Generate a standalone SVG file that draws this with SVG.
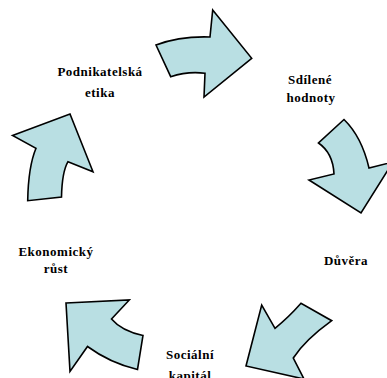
<svg xmlns="http://www.w3.org/2000/svg" width="387" height="378" viewBox="0 0 387 378">
<style>
.arr{fill:#b9dfe3;stroke:#000;stroke-width:1.6;stroke-linejoin:miter}
.lbl{font-family:"Liberation Serif","Times New Roman",serif;font-weight:bold;font-size:13px;letter-spacing:0.5px;fill:#000;text-anchor:middle}
</style>
<rect width="387" height="378" fill="#fff"/>
<g id="connectors">
<path class="arr" d="M156,45 Q180,36 210,37 L212.7,10 L251.7,58.3 L204,97 L205,73.3 Q188,71 170.7,76.7 Z"/>
<path class="arr" d="M344,119.5 Q361.7,136.7 369,168 L393,162 L361,213 L309,180 L334,174 Q333,153 318.5,143 Z"/>
<path class="arr" d="M246,366 L261.7,305 L275,328.3 Q288,318 301,303.3 L331.7,320.7 Q305,340 293.3,358 L304,379 Z"/>
<path class="arr" d="M66,303 L129.3,300 L111.5,319 Q121.7,331 143,335.5 L137.5,369.5 Q110,363 87.5,346.5 L70,371.5 Z"/>
<path class="arr" d="M12.5,135.5 L70,114 L93,171.7 L68,161.7 Q62,172 61.5,197 L27.7,200.7 Q28.3,166.7 36,148.3 Z"/>
</g>
<g id="podnikatelska-etika"><text class="lbl" x="100" y="76">Podnikatelská</text><text class="lbl" x="100" y="97">etika</text></g>
<g id="sdilene-hodnoty"><text class="lbl" x="310" y="84">Sdílené</text><text class="lbl" x="311" y="102">hodnoty</text></g>
<g id="duvera"><text class="lbl" x="346" y="265">Důvěra</text></g>
<g id="sociální-kapital"><text class="lbl" x="190" y="359">Sociální</text><text class="lbl" x="190" y="380">kapitál</text></g>
<g id="ekonomicky-rust"><text class="lbl" x="56" y="256">Ekonomický</text><text class="lbl" x="56" y="273">růst</text></g>
</svg>
